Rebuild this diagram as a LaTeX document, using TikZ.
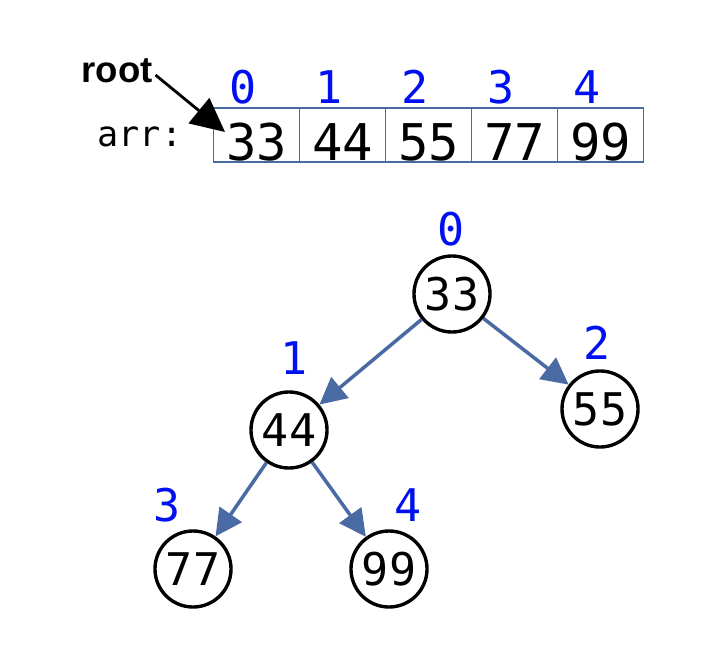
\documentclass[tikz,border=0pt]{standalone}
\usepackage{fontspec}
\usetikzlibrary{arrows.meta}
\newfontfamily\monofont{DejaVu Sans Mono}
\newfontfamily\labelfont{Liberation Sans}
\definecolor{edgeblue}{HTML}{4A6AA3}
\definecolor{idxblue}{HTML}{0010F0}

\begin{document}
\begin{tikzpicture}[x=0.025cm, y=-0.025cm,
    cell/.style={draw=edgeblue, line width=1.1pt, minimum width=2.15cm, minimum height=1.35cm,
        inner sep=0pt, text height=1.25cm, text depth=0pt, font=\monofont\fontsize{36}{42}\selectfont},
    idx/.style={text=idxblue, inner sep=0pt, font=\monofont\fontsize{32}{38}\selectfont},
    heapnode/.style={circle, draw, line width=2.4pt, minimum size=1.9cm, inner sep=0pt,
        font=\monofont\fontsize{32}{38}\selectfont},
    link/.style={draw=edgeblue, line width=2.5pt, -{Triangle[length=19pt, width=19pt]}}]
        \useasboundingbox (0,0) rectangle (728,670);

        % array cells with their index on top
        \foreach \i/\v in {0/33, 1/44, 2/55, 3/77, 4/99} {
            \node[cell] (c\i) at (256.5+86*\i,135) {\v};
            \node[idx] (i\i) at (243+86*\i,87) {\i};
        }
        \node[font=\monofont\fontsize{25}{30}\selectfont] (arr) at (140,137) {arr:};

        % root pointer
        \node[font=\labelfont\bfseries\fontsize{26}{30}\selectfont] (root) at (117,71) {root};
        \coordinate (rootTip) at (225,132);
        \draw[line width=2pt, -{Triangle[length=24pt, width=23pt]}] (root.east) ++(-2,4) -- (rootTip);

        % heap as a tree
        \node[heapnode] (n0) at (452,294) {33};
        \node[heapnode] (n1) at (289,430) {44};
        \node[heapnode] (n2) at (600,409) {55};
        \node[heapnode] (n3) at (193,569) {77};
        \node[heapnode] (n4) at (389,569) {99};

        % index labels of the tree
        \foreach \i/\x/\y in {0/451/229, 1/294/358, 2/597/343, 3/167/505, 4/408/505} {
            \node[idx] (l\i) at (\x,\y) {\i};
        }

        % parent to child links
        \draw[link] (n0) -- (n1);
        \draw[link] (n0) -- (n2);
        \draw[link] (n1) -- (n3);
        \draw[link] (n1) -- (n4);
    \end{tikzpicture}
\end{document}
